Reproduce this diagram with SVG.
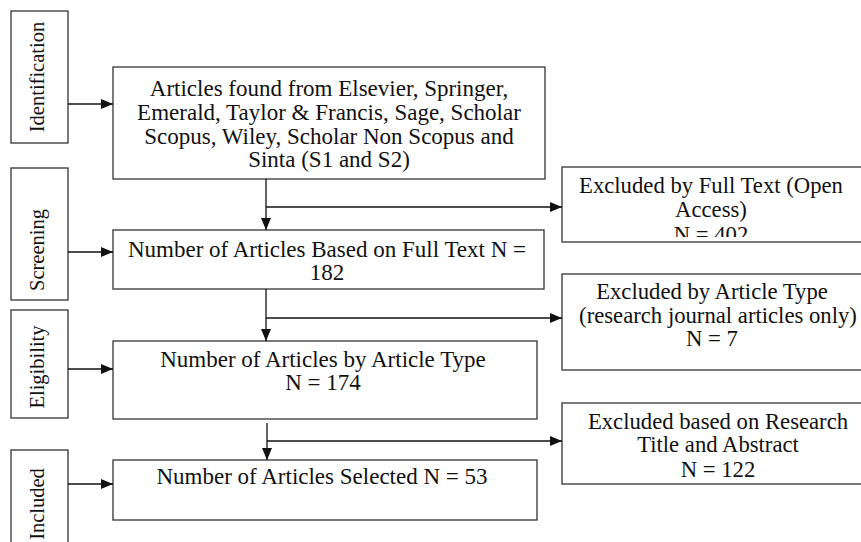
<svg xmlns="http://www.w3.org/2000/svg" width="861" height="542" viewBox="0 0 861 542">
<style>
.box{fill:#fff;stroke:#333;stroke-width:1.3}
text{font-family:'Liberation Serif','Times New Roman',Times,serif;fill:#111;text-anchor:middle}
.t{font-size:23px}
.e{font-size:22.7px}
.v{font-size:20.5px}
.ln{fill:none;stroke:#111;stroke-width:1.3}
</style>
<defs>
<marker id="ah" markerWidth="12" markerHeight="10" refX="12" refY="5" orient="auto" markerUnits="userSpaceOnUse">
<path d="M0,0 L12,5 L0,10 Z" fill="#111"/>
</marker>
<clipPath id="c1"><rect x="562" y="168" width="300" height="69"/></clipPath>
</defs>
<rect width="861" height="542" fill="#fff"/>
<g id="stage-identification">
<rect class="box" x="11" y="11" width="57" height="132"/>
<text class="v" transform="translate(43.5,77) rotate(-90)">Identification</text>
</g>
<g id="stage-screening">
<rect class="box" x="11" y="168" width="57" height="132"/>
<text class="v" transform="translate(43.5,250) rotate(-90)">Screening</text>
</g>
<g id="stage-eligibility">
<rect class="box" x="11" y="310" width="57" height="108"/>
<text class="v" transform="translate(43.5,367) rotate(-90)">Eligibility</text>
</g>
<g id="stage-included">
<rect class="box" x="11" y="450" width="57" height="120"/>
<text class="v" transform="translate(43.5,504) rotate(-90)">Included</text>
</g>
<g id="box-found">
<rect class="box" x="113" y="67" width="432" height="112"/>
<text class="t" x="329" y="96">Articles found from Elsevier, Springer,</text>
<text class="t" x="329" y="120">Emerald, Taylor &amp; Francis, Sage, Scholar</text>
<text class="t" x="329" y="144">Scopus, Wiley, Scholar Non Scopus and</text>
<text class="t" x="329" y="167">Sinta (S1 and S2)</text>
</g>
<g id="box-fulltext">
<rect class="box" x="113" y="230" width="431" height="59"/>
<text class="t" x="327" y="257">Number of Articles Based on Full Text N =</text>
<text class="t" x="327" y="280">182</text>
</g>
<g id="box-type">
<rect class="box" x="113" y="341" width="424" height="78"/>
<text class="t" x="323" y="367">Number of Articles by Article Type</text>
<text class="t" x="323" y="390">N = 174</text>
</g>
<g id="box-selected">
<rect class="box" x="113" y="460" width="424" height="60"/>
<text class="t" x="322" y="484">Number of Articles Selected N = 53</text>
</g>
<g id="excl-fulltext">
<rect class="box" x="562" y="167" width="300" height="75"/>
<g clip-path="url(#c1)">
<text class="e" x="711" y="193">Excluded by Full Text (Open</text>
<text class="e" x="711" y="217">Access)</text>
<text class="e" x="711" y="242">N = 402</text>
</g>
</g>
<g id="excl-type">
<rect class="box" x="562" y="274" width="300" height="96"/>
<text class="e" x="712" y="299">Excluded by Article Type</text>
<text class="e" x="718" y="323">(research journal articles only)</text>
<text class="e" x="712" y="346">N = 7</text>
</g>
<g id="excl-title">
<rect class="box" x="562" y="403" width="300" height="81"/>
<text class="e" x="718" y="429">Excluded based on Research</text>
<text class="e" x="718" y="452">Title and Abstract</text>
<text class="e" x="718" y="477">N = 122</text>
</g>
<g id="connectors">
<line class="ln" x1="68" y1="104" x2="113" y2="104" marker-end="url(#ah)"/>
<line class="ln" x1="68" y1="252" x2="113" y2="252" marker-end="url(#ah)"/>
<line class="ln" x1="68" y1="369" x2="113" y2="369" marker-end="url(#ah)"/>
<line class="ln" x1="68" y1="484" x2="113" y2="484" marker-end="url(#ah)"/>
<line class="ln" x1="266" y1="179" x2="266" y2="230" marker-end="url(#ah)"/>
<line class="ln" x1="266" y1="207" x2="562" y2="207" marker-end="url(#ah)"/>
<line class="ln" x1="266" y1="289" x2="266" y2="341" marker-end="url(#ah)"/>
<line class="ln" x1="266" y1="318" x2="562" y2="318" marker-end="url(#ah)"/>
<line class="ln" x1="267" y1="423" x2="267" y2="460" marker-end="url(#ah)"/>
<line class="ln" x1="267" y1="441" x2="562" y2="441" marker-end="url(#ah)"/>
</g>
</svg>
